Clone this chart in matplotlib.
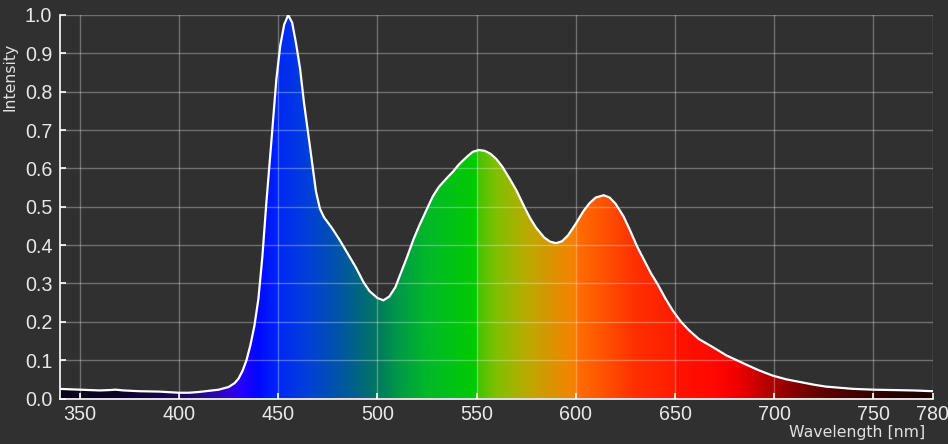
import numpy as np
import matplotlib
matplotlib.use("Agg")
import matplotlib.pyplot as plt
from matplotlib.colors import LinearSegmentedColormap, to_rgb

# ---- data ----
wavelength = [340, 345, 350, 355, 360, 365, 368, 372, 380, 390, 400, 405, 410, 415,
              420, 425, 428, 430, 432, 434, 436, 438, 440, 442, 444, 447, 449, 451, 453,
              455, 457, 459, 461, 463, 466, 469, 471, 473, 477, 481, 485, 489, 493,
              496, 500, 503, 506, 509, 512, 515, 518, 521, 525, 528, 531, 535, 538,
              541, 545, 548, 551, 554, 557, 560, 563, 567, 570, 574, 577, 580, 584,
              587, 590, 593, 596, 600, 604, 607, 610, 614, 617, 620, 624, 627, 631,
              634, 638, 641, 645, 649, 653, 657, 662, 669, 676, 681, 686, 692, 699,
              706, 713, 720, 726, 733, 740, 750, 760, 770, 780]
intensity = [0.025, 0.024, 0.023, 0.022, 0.021, 0.022, 0.023, 0.021, 0.019, 0.018, 0.015, 0.015, 0.017, 0.020,
             0.023, 0.030, 0.040, 0.052, 0.072, 0.100, 0.140, 0.190, 0.260, 0.370, 0.510, 0.700, 0.830, 0.920, 0.975,
             1.000, 0.980, 0.925, 0.860, 0.770, 0.656, 0.540, 0.495, 0.473, 0.445, 0.413, 0.378, 0.343, 0.303,
             0.280, 0.262, 0.256, 0.266, 0.290, 0.330, 0.370, 0.413, 0.450, 0.495, 0.528, 0.552, 0.575, 0.591,
             0.610, 0.630, 0.643, 0.648, 0.646, 0.638, 0.624, 0.604, 0.570, 0.543, 0.500, 0.470, 0.445, 0.420,
             0.409, 0.405, 0.410, 0.425, 0.456, 0.490, 0.510, 0.524, 0.530, 0.524, 0.508, 0.475, 0.442, 0.395,
             0.365, 0.325, 0.300, 0.262, 0.228, 0.200, 0.178, 0.155, 0.134, 0.112, 0.100, 0.088, 0.074, 0.060,
             0.050, 0.043, 0.036, 0.031, 0.028, 0.025, 0.023, 0.022, 0.021, 0.019]

x_ticks = [350, 400, 450, 500, 550, 600, 650, 700, 750, 780]
x_tick_labels = ["350", "400", "450", "500", "550", "600", "650", "700", "750", "780"]
y_ticks = [0.0, 0.1, 0.2, 0.3, 0.4, 0.5, 0.6, 0.7, 0.8, 0.9, 1.0]
y_tick_labels = ["0.0", "0.1", "0.2", "0.3", "0.4", "0.5", "0.6", "0.7", "0.8", "0.9", "1.0"]

# spectral colour anchors (wavelength, colour)
color_wl = [340, 370, 400, 415, 425, 433, 440, 450, 465, 480, 492, 500, 510, 525, 540,
            549.9, 550, 560, 575, 590, 599.9, 600, 615, 630, 649.9, 650, 670, 682, 692,
            700, 715, 735, 760, 780]
color_hex = ["#0a0418", "#0c0228", "#1a0658", "#2a08a0", "#3000d8", "#2000ff", "#0008ff",
             "#0028f4", "#0040d8", "#0054a8", "#00687c", "#007860", "#009848", "#00b82a",
             "#00c410", "#00cc00", "#40c400", "#80c000", "#b8ac00", "#e09000", "#f88000",
             "#ff7000", "#ff5000", "#ff3000", "#ff1c00", "#ff1400", "#ff0800", "#f00000",
             "#c80000", "#a80000", "#780000", "#480000", "#280000", "#1a0000"]

BG = "#303030"
x_min, x_max = 340, 780

fig = plt.figure(figsize=(9.48, 4.44), dpi=100, facecolor=BG)
ax = fig.add_axes([60 / 948, 45.5 / 444, 873 / 948, 383.5 / 444])
ax.set_facecolor(BG)

# gradient image clipped to the area under the curve
pos = [(w - x_min) / (x_max - x_min) for w in color_wl]
cmap = LinearSegmentedColormap.from_list("spec", list(zip(pos, [to_rgb(c) for c in color_hex])), N=1024)
grad = np.linspace(0, 1, 1024).reshape(1, -1)
im = ax.imshow(grad, cmap=cmap, aspect="auto", extent=[x_min, x_max, 0, 1],
               origin="lower", zorder=1, interpolation="bilinear")
poly = ax.fill_between(wavelength, intensity, 0, color="none", lw=0)
clip = poly.get_paths()[0]
im.set_clip_path(clip, transform=ax.transData)

ax.plot(wavelength, intensity, color="white", lw=1.6, zorder=4, solid_joinstyle="round")

ax.set_xlim(x_min, x_max)
ax.set_ylim(0, 1.0)
ax.set_xticks(x_ticks)
ax.set_xticklabels(x_tick_labels)
ax.set_yticks(y_ticks)
ax.set_yticklabels(y_tick_labels)

ax.grid(True, color="white", alpha=0.3, lw=1.0, zorder=3)
ax.set_axisbelow(False)
for ln in ax.get_xgridlines() + ax.get_ygridlines():
    ln.set_zorder(3)

for s in ["top", "right"]:
    ax.spines[s].set_visible(False)
for s in ["left", "bottom"]:
    ax.spines[s].set_color("white")
    ax.spines[s].set_linewidth(1.2)
    ax.spines[s].set_zorder(5)

ax.tick_params(axis="both", direction="in", colors="white", length=4.5, width=1.2,
               labelcolor="#e8e8e8", labelsize=14.2)
ax.tick_params(axis="x", pad=4.5)
ax.tick_params(axis="y", pad=5.5)
for lab in ax.get_xticklabels() + ax.get_yticklabels():
    lab.set_fontfamily("Liberation Sans")

fig.text(925 / 948, (444 - 437.3) / 444, "Wavelength [nm]", ha="right", va="baseline",
         color="#e0e0e0", fontsize=11.3, family="DejaVu Sans")
fig.text(10 / 948, (444 - 77) / 444, "Intensity", ha="center", va="center", rotation=90,
         color="#e0e0e0", fontsize=11.3, family="DejaVu Sans")

fig.savefig("out.png", dpi=100, facecolor=BG)
